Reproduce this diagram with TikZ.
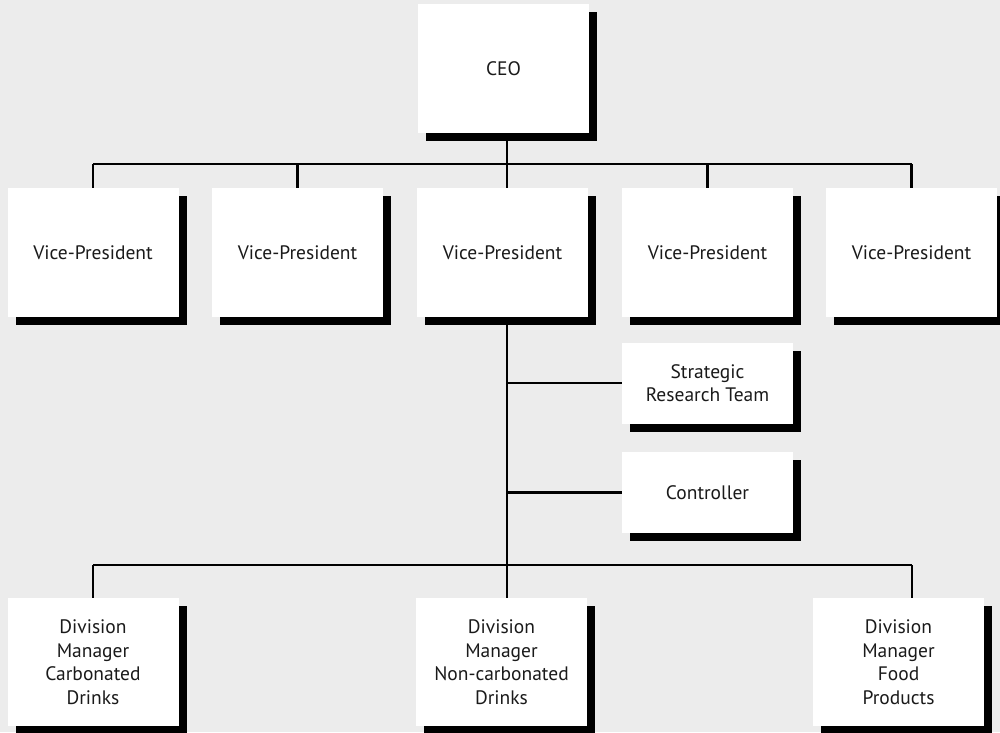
\documentclass[tikz,border=0pt]{standalone}
\usepackage{fontspec}
\setmainfont{PT Sans}
\definecolor{bgray}{RGB}{236,236,236}
\definecolor{ink}{RGB}{26,26,26}
\tikzset{
  orgbox/.style={rectangle, fill=white, inner sep=0pt, align=center,
    minimum width=171pt, text=ink,
    font=\fontsize{19.5}{23.5}\selectfont,
    preaction={fill=black, transform canvas={shift={(8pt,-8pt)}}}},
  tallbox/.style={orgbox, minimum height=129pt},
  smallbox/.style={orgbox, minimum height=81pt},
  link/.style={draw=black, line width=2.8pt}
}
\begin{document}
\begin{tikzpicture}[x=1pt,y=-1pt]
\fill[bgray] (0,0) rectangle (1000,732);
\useasboundingbox (0,0) rectangle (1000,732);
% nodes
\node[tallbox] (ceo) at (503.5,68.5) {CEO};
\node[tallbox] (vp1) at (93,252.5) {Vice-President};
\node[tallbox] (vp2) at (297.5,252.5) {Vice-President};
\node[tallbox] (vp3) at (502.5,252.5) {Vice-President};
\node[tallbox] (vp4) at (707.5,252.5) {Vice-President};
\node[tallbox] (vp5) at (911.5,252.5) {Vice-President};
\node[smallbox] (srt) at (707.5,383) {Strategic\\Research Team};
\node[smallbox] (ctl) at (707.5,492.5) {Controller};
\node[tallbox, minimum height=128pt] (div1) at (93,662) {Division\\Manager\\Carbonated\\Drinks};
\node[tallbox, minimum height=128pt] (div2) at (501.5,662) {Division\\Manager\\Non-carbonated\\Drinks};
\node[tallbox, minimum height=128pt] (div3) at (898.5,662) {Division\\Manager\\Food\\Products};
% junctions
\coordinate (hub) at (507,164);
\coordinate (low) at (507,565);
\coordinate (d3) at (912,565);
% connectors
\draw[link] (ceo.south -| hub) -- (hub);
\draw[link] (vp1.north |- hub) -- (vp5.north |- hub);
\foreach \v in {vp1,vp2,vp4,vp5} { \draw[link] (\v.north |- hub) -- (\v.north); }
\draw[link] (hub) -- (hub |- vp3.north);
\draw[link] (hub |- vp3.south) -- (low);
\draw[link] (hub |- srt.west) -- (srt.west);
\draw[link] (hub |- ctl.west) -- (ctl.west);
\draw[link] (div1.north |- low) -- (d3);
\draw[link] (div1.north |- low) -- (div1.north);
\draw[link] (low) -- (low |- div2.north);
\draw[link] (d3) -- (d3 |- div3.north);
\end{tikzpicture}
\end{document}
